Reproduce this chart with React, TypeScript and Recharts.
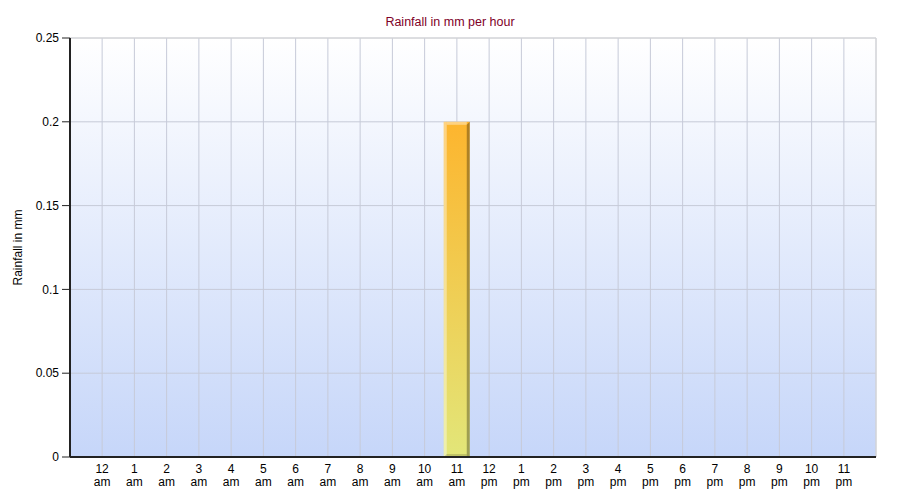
import React from 'react';
import { BarChart, Bar, XAxis, YAxis, CartesianGrid, ReferenceLine } from 'recharts';

const hourNumbers = ['12', '1', '2', '3', '4', '5', '6', '7', '8', '9', '10', '11', '12', '1', '2', '3', '4', '5', '6', '7', '8', '9', '10', '11'];
const hourPeriods = ['am', 'am', 'am', 'am', 'am', 'am', 'am', 'am', 'am', 'am', 'am', 'am', 'pm', 'pm', 'pm', 'pm', 'pm', 'pm', 'pm', 'pm', 'pm', 'pm', 'pm', 'pm'];
const rainfall = [0, 0, 0, 0, 0, 0, 0, 0, 0, 0, 0, 0.2, 0, 0, 0, 0, 0, 0, 0, 0, 0, 0, 0, 0];
const yTicks = [0, 0.05, 0.1, 0.15, 0.2, 0.25];

const data = hourNumbers.map((n, i) => ({ key: `${n}${hourPeriods[i]}${i}`, idx: i, value: rainfall[i] }));

const FONT = '"Liberation Sans", Arial, sans-serif';

const XTick = (props: any) => {
  const { x, y, payload } = props;
  const i = payload.index;
  return (
    <g>
      <text x={x} y={y + 8} textAnchor="middle" fontSize={12} fontFamily={FONT} fill="#000">{hourNumbers[i]}</text>
      <text x={x} y={y + 21} textAnchor="middle" fontSize={12} fontFamily={FONT} fill="#000">{hourPeriods[i]}</text>
    </g>
  );
};

const BarShape = (props: any) => {
  const { x, y, width, height } = props;
  if (!height || height <= 0) return null;
  const e = 3;
  return (
    <g>
      <rect x={x} y={y} width={width} height={height} fill="url(#barGrad)" />
      <rect x={x} y={y} width={e} height={height} fill="#ffffff" fillOpacity={0.4} />
      <rect x={x + e} y={y} width={width - 2 * e} height={e} fill="#ffffff" fillOpacity={0.4} />
      <polygon points={`${x + width - e},${y + e} ${x + width},${y} ${x + width},${y + height} ${x + width - e},${y + height}`} fill="#000" fillOpacity={0.3} />
      <polygon points={`${x + e},${y + height - e} ${x + width - e},${y + height - e} ${x + width - e},${y + height} ${x},${y + height}`} fill="#000" fillOpacity={0.15} />
    </g>
  );
};

const YLabel = (props: any) => {
  const { viewBox } = props;
  const cy = viewBox.y + viewBox.height / 2;
  const cx = 10;
  return (
    <text x={cx} y={cy} transform={`rotate(-90, ${cx}, ${cy})`} textAnchor="middle" dominantBaseline="central" fontSize={12} fontFamily={FONT} fill="#000">
      Rainfall in mm
    </text>
  );
};

export default function App() {
  return (
    <div style={{ position: 'relative', width: 884, height: 484, fontFamily: FONT }}>
      <svg width={0} height={0} style={{ position: 'absolute' }}>
        <defs>
          <linearGradient id="bgGrad" x1="0" y1="0" x2="0" y2="1">
            <stop offset="0%" stopColor="#ffffff" />
            <stop offset="100%" stopColor="#c6d6f9" />
          </linearGradient>
          <linearGradient id="barGrad" x1="0" y1="0" x2="0" y2="1">
            <stop offset="0%" stopColor="#fdb52e" />
            <stop offset="100%" stopColor="#e2e679" />
          </linearGradient>
        </defs>
      </svg>
      <div style={{ position: 'absolute', top: 7, left: 0, width: 884, textAlign: 'center', fontSize: 12.5, color: '#800028', fontFamily: FONT, lineHeight: '14px' }}>
        Rainfall in mm per hour
      </div>
      <BarChart width={884} height={484} data={data} margin={{ top: 30, right: 16, left: 0, bottom: 0 }}>
        <CartesianGrid fill="url(#bgGrad)" stroke="#c6cad8" strokeWidth={1} />
        <XAxis
          dataKey="key"
          type="category"
          height={35}
          padding={{ left: 16, right: 16 }}
          tickLine={false}
          axisLine={{ stroke: '#222', strokeWidth: 2 }}
          tick={<XTick />}
          interval={0}
        />
        <XAxis xAxisId="edge" dataKey="idx" type="number" domain={[0, 1]} allowDataOverflow hide />
        <YAxis
          width={62}
          domain={[0, 0.25]}
          ticks={yTicks}
          tickSize={8}
          tickMargin={3}
          axisLine={{ stroke: '#222', strokeWidth: 2 }}
          tickLine={{ stroke: '#222', strokeWidth: 1 }}
          tick={{ fontSize: 12, fontFamily: FONT, fill: '#000' }}
          label={<YLabel />}
        />
        <ReferenceLine xAxisId="edge" x={1} stroke="#d6d6d6" strokeWidth={1} />
        <ReferenceLine y={0.25} stroke="#d6d6d6" strokeWidth={1} />
        <Bar dataKey="value" barSize={26} isAnimationActive={false} shape={<BarShape />} />
      </BarChart>
    </div>
  );
}
